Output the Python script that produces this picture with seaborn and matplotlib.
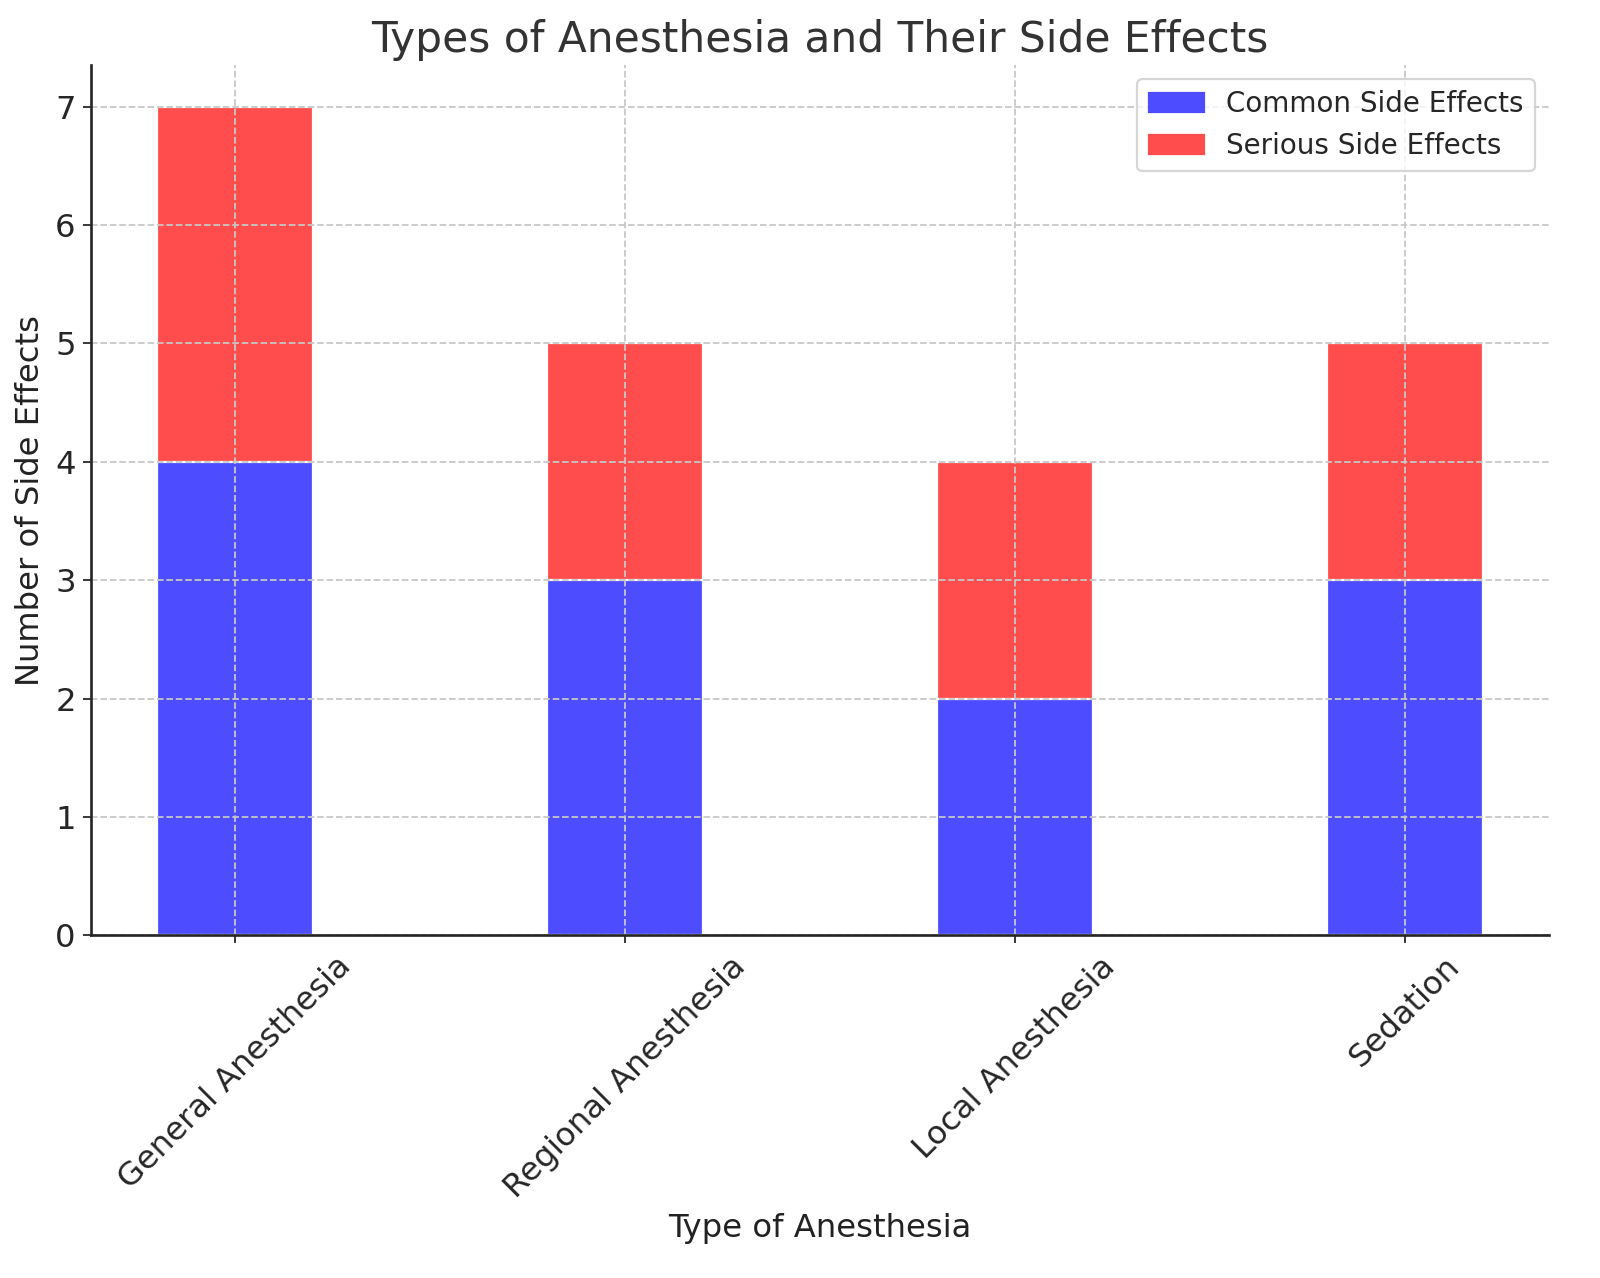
import matplotlib
matplotlib.use("Agg")
import matplotlib.pyplot as plt
import seaborn as sns
import pandas as pd
from matplotlib.patches import Patch

# data
types = ["General Anesthesia", "Regional Anesthesia", "Local Anesthesia", "Sedation"]
common = [4, 3, 2, 3]
serious = [3, 2, 2, 2]
total = [c + s for c, s in zip(common, serious)]

blue = "#4d4dff"
red = "#ff4d4d"

df = pd.DataFrame({"type": types, "common": common, "total": total})

sns.set_style("ticks")
plt.rcParams["font.family"] = ["DejaVu Sans"]

fig, ax = plt.subplots(figsize=(10, 7.9875), dpi=160)

# serious sits on top of common: draw totals first, common over them
sns.barplot(data=df, x="type", y="total", color=red, width=0.4,
            saturation=1, ax=ax)
sns.barplot(data=df, x="type", y="common", color=blue, width=0.4,
            saturation=1, ax=ax)

ax.set_xlim(-0.37, 3.37)
ax.set_ylim(0, 7.35)
ax.grid(True, linestyle="--", color="#c8c8c8", linewidth=0.8)
ax.set_axisbelow(False)
sns.despine(ax=ax)
for sp in ax.spines.values():
    sp.set_zorder(5)
    sp.set_linewidth(1.2)

ax.set_title("Types of Anesthesia and Their Side Effects", fontsize=19, color="#333333")
ax.set_xlabel("Type of Anesthesia", fontsize=14.5, color="#222222")
ax.set_ylabel("Number of Side Effects", fontsize=14.5, color="#222222")
ax.tick_params(labelsize=14.5)
plt.setp(ax.get_xticklabels(), rotation=45, ha="center")

handles = [Patch(color=blue, label="Common Side Effects"),
           Patch(color=red, label="Serious Side Effects")]
ax.legend(handles=handles, loc="upper right", fontsize=12.5, frameon=True)

fig.subplots_adjust(left=0.057, right=0.968, top=0.949, bottom=0.268)
fig.savefig("out.png", dpi=160)
